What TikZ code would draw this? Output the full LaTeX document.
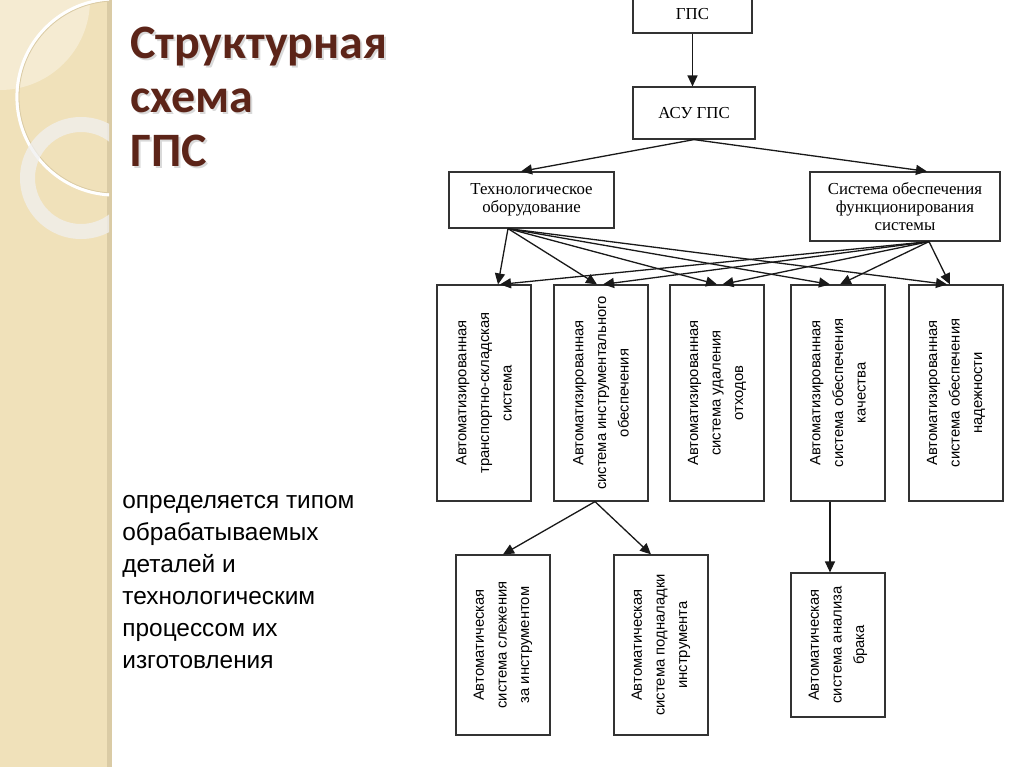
\documentclass[tikz,border=0pt]{standalone}
\usepackage{fontspec}
\setmainfont{Liberation Serif}
\newfontfamily\titlefont{Carlito}
\newfontfamily\slidefont{Liberation Sans}
\usepackage{tikz}
\usetikzlibrary{arrows.meta,positioning}

\definecolor{stripbeige}{RGB}{240,225,186}
\definecolor{stripedge}{RGB}{218,203,165}
\definecolor{titlebrown}{RGB}{92,36,24}

\begin{document}
\begin{tikzpicture}[x=0.5pt, y=-0.5pt, >={Triangle[length=5.5pt,width=5pt]},
    every node/.style={inner sep=0pt},
    box/.style={draw=black!80, line width=0.6pt, align=center, font=\fontsize{8.4}{9}\selectfont},
    tallbox/.style={draw=black!80, line width=0.6pt, minimum width=47pt},
    vtext/.style={rotate=90, align=center, font=\slidefont\fontsize{7.4}{11.3}\selectfont},
    arr/.style={->, line width=0.65pt, black!90}]
    \useasboundingbox (0,0) rectangle (1024,767);
    \fill[white] (0,0) rectangle (1024,767);

    % Side strip
    \fill[stripbeige] (0,0) rectangle (111,767);
    \fill[stripedge] (107,0) rectangle (112,767);
    \begin{scope}
      \clip (0,0) rectangle (109,767);
      \fill[white, opacity=0.35] (0,0) circle[radius=45pt];
      \draw[white, line width=1.6pt] (115,97) circle[radius=49pt];
      \draw[stripedge, line width=0.4pt] (115,97) circle[radius=48pt];
      \fill[white!88!gray, opacity=0.75, even odd rule] (81,178) circle[radius=30.5pt] (81,178) circle[radius=23pt];
    \end{scope}

    % Title
    \node[anchor=north west, align=left, text=gray!30, font=\titlefont\bfseries\fontsize{24}{27}\selectfont]
      (titleshadow) at (132,28.5) {Структурная\\схема\\ГПС};
    \node[anchor=north west, align=left, text=titlebrown, font=\titlefont\bfseries\fontsize{24}{27}\selectfont]
      (title) at (130,27) {Структурная\\схема\\ГПС};

    % Note
    \node[anchor=north west, align=left, font=\slidefont\fontsize{12.2}{16}\selectfont]
      (note) at (122,495) {определяется типом\\обрабатываемых\\деталей и\\технологическим\\процессом их\\изготовления};

    % Upper levels
    \node[box, minimum width=59.5pt, minimum height=19pt] (gps) at (692.5,14) {ГПС};
    \node[box, minimum width=61pt, minimum height=26pt] (asu) at (694,113) {АСУ ГПС};
    \node[box, minimum width=82.5pt, minimum height=28pt] (tech) at (531.5,200) {Технологическое\\оборудование};
    \node[box, minimum width=95pt, minimum height=34.5pt] (sys) at (905,206.5) {Система обеспечения\\функционирования\\системы};

    % Subsystems
    \node[tallbox, minimum height=108pt] (b1) at (484,393) {};
    \node[tallbox, minimum height=108pt] (b2) at (601,393) {};
    \node[tallbox, minimum height=108pt] (b3) at (717,393) {};
    \node[tallbox, minimum height=108pt] (b4) at (838,393) {};
    \node[tallbox, minimum height=108pt] (b5) at (956,393) {};
    \node[vtext] (b1txt) at (b1) {Автоматизированная\\транспортно-складская\\система};
    \node[vtext] (b2txt) at (b2) {Автоматизированная\\система инструментального\\обеспечения};
    \node[vtext] (b3txt) at (b3) {Автоматизированная\\система удаления\\отходов};
    \node[vtext] (b4txt) at (b4) {Автоматизированная\\система обеспечения\\качества};
    \node[vtext] (b5txt) at (b5) {Автоматизированная\\система обеспечения\\надежности};

    % Lower level
    \node[tallbox, minimum height=90pt] (s1) at (503,645) {};
    \node[tallbox, minimum height=90pt] (s2) at (661,645) {};
    \node[tallbox, minimum height=72pt] (s3) at (838,645) {};
    \node[vtext] (s1txt) at (s1) {Автоматическая\\система слежения\\за инструментом};
    \node[vtext] (s2txt) at (s2) {Автоматическая\\система подналадки\\инструмента};
    \node[vtext] (s3txt) at (s3) {Автоматическая\\система анализа\\брака};

    % Connections
    \draw[arr] (gps.south) -- (gps.south |- asu.north);
    \draw[arr] (asu.south) -- ([xshift=-5.25pt]tech.north);
    \draw[arr] (asu.south) -- ([xshift=11pt]sys.north);
    \foreach \n/\dt/\ds in {b1/7/8, b2/-2/1, b3/0/2.75, b4/-4/1, b5/-4.5/-3} {
      \draw[arr] ([xshift=-11.75pt]tech.south) -- ([xshift=\dt pt]\n.north);
      \draw[arr] ([xshift=12pt]sys.south) -- ([xshift=\ds pt]\n.north);
    }
    \draw[arr] ([xshift=-3pt]b2.south) -- (s1.north);
    \draw[arr] ([xshift=-3pt]b2.south) -- ([xshift=-5pt]s2.north);
    \draw[arr] ([xshift=-4pt]b4.south) -- ([xshift=-4pt]s3.north);
\end{tikzpicture}
\end{document}
